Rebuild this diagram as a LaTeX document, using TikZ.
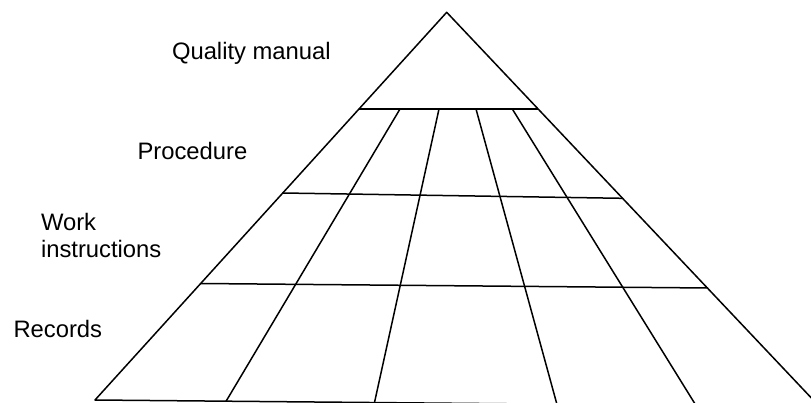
\documentclass[tikz,border=0pt]{standalone}
\usepackage{fontspec}
\setmainfont{Liberation Sans}
\begin{document}
\begin{tikzpicture}[x=1pt,y=-1pt,
  gridline/.style={line width=1.5pt,line join=round,line cap=butt},
  tierlabel/.style={anchor=base west,inner sep=0pt,outer sep=0pt,
    font=\fontsize{23.8}{26.6}\selectfont,align=left}]
  \useasboundingbox (0,0) rectangle (811,403);
  \clip (0,0) rectangle (811,403);

  % outline of the pyramid
  \coordinate (apex) at (446.7,12.3);
  \coordinate (bl) at (95,400);
  \coordinate (br) at (819.5,406.6);
  % tier boundaries on the left and right edges
  \coordinate (l1) at (358.5,109);   \coordinate (r1) at (538.3,109);
  \coordinate (l2) at (282.5,193);   \coordinate (r2) at (622,198.3);
  \coordinate (l3) at (200.7,283.5); \coordinate (r3) at (708,288);
  % dividers from the top tier boundary down to the base
  \coordinate (t1) at (400,109);     \coordinate (b1) at (226.1,401.2);
  \coordinate (t2) at (439,109);     \coordinate (b2) at (374.5,402.5);
  \coordinate (t3) at (476,109);     \coordinate (b3) at (556.9,404.2);
  \coordinate (t4) at (512.3,109);   \coordinate (b4) at (696,405.5);

  \draw[gridline] (br) -- (apex) -- (bl) -- (br);
  \draw[gridline] (l1) -- (r1);
  \draw[gridline] (l2) -- (r2);
  \draw[gridline] (l3) -- (r3);
  \draw[gridline] (t1) -- (b1);
  \draw[gridline] (t2) -- (b2);
  \draw[gridline] (t3) -- (b3);
  \draw[gridline] (t4) -- (b4);

  % tier labels
  \node[tierlabel] (qm) at (172,59.3) {Quality manual};
  \node[tierlabel] (proc) at (137.5,159.3) {Procedure};
  \node[tierlabel] (work) at (41,230.7) {Work};
  \node[tierlabel] (instr) at (41,257.3) {instructions};
  \node[tierlabel] (rec) at (13.5,337) {Records};
\end{tikzpicture}
\end{document}
